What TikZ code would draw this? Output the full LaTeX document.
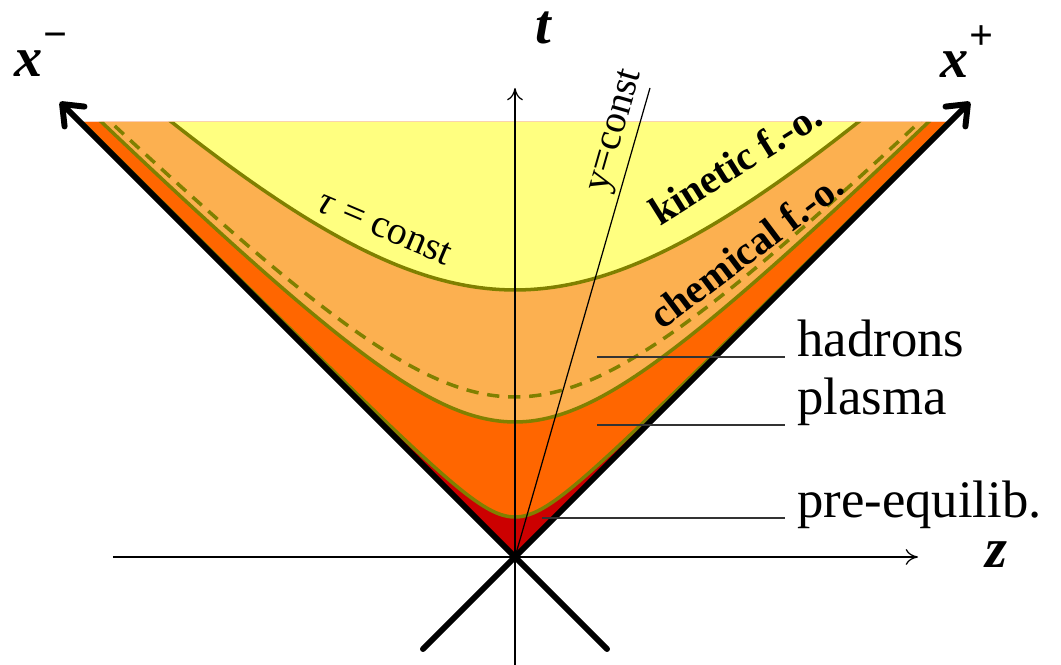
\documentclass[tikz,border=0pt]{standalone}
\usepackage{fontspec}
\setmainfont{Liberation Serif}
\usetikzlibrary{arrows.meta,calc}
\definecolor{cyel}{HTML}{FFFF80}
\definecolor{clor}{HTML}{FCB050}
\definecolor{cor}{HTML}{FF6600}
\definecolor{cred}{HTML}{CC0000}
\definecolor{colive}{HTML}{808000}
\begin{document}
\begin{tikzpicture}[x=0.02cm,y=0.02cm,
  cone/.style={line width=3.4pt,line cap=round},
  thinaxis/.style={line width=0.7pt,-{To[length=7pt,width=9pt]}},
  hyp/.style={colive,line width=2pt},
  leader/.style={black!80,line width=0.8pt},
  biglbl/.style={inner sep=0pt,font=\fontsize{32}{36}\selectfont\bfseries\itshape},
  midlbl/.style={inner sep=0pt,font=\fontsize{30}{34}\selectfont},
  smlbl/.style={inner sep=0pt,font=\fontsize{22.5}{26}\selectfont},
  fobl/.style={inner sep=0pt,font=\fontsize{23}{26}\selectfont\bfseries}]
\useasboundingbox (-515,-108) rectangle (546,557);
\coordinate (O) at (0,0);
\coordinate (UL) at (-455,455);
\coordinate (UR) at (455,455);
\coordinate (LL) at (-92,-92);
\coordinate (LR) at (92,-92);
\coordinate (TL) at (-435,435);
\coordinate (TR) at (435,435);
\coordinate (zL) at (-402,0);
\coordinate (zR) at (403,0);
\coordinate (tB) at (0,-108);
\coordinate (tT) at (0,469);
\coordinate (Y) at (135,469);
\begin{scope}
  \clip (O) -- (TL) -- (TR) -- cycle;
  \fill[cred] (O) -- (TL) -- (TR) -- cycle;
  \fill[cor] plot[domain=-3.2:3.2,samples=160] ({40*sinh(\x)},{40*cosh(\x)}) -- (600,700) -- (-600,700) -- cycle;
  \fill[clor] plot[domain=-1.95:1.95,samples=120] ({135*sinh(\x)},{135*cosh(\x)}) -- (600,700) -- (-600,700) -- cycle;
  \fill[cyel] plot[domain=-1.15:1.15,samples=100] ({267*sinh(\x)},{267*cosh(\x)}) -- (600,700) -- (-600,700) -- cycle;
  \draw[hyp] plot[domain=-3.2:3.2,samples=160] ({40*sinh(\x)},{40*cosh(\x)});
  \draw[hyp] plot[domain=-1.95:1.95,samples=120] ({135*sinh(\x)},{135*cosh(\x)});
  \draw[hyp,dash pattern=on 7pt off 5pt] plot[domain=-1.75:1.75,samples=120] ({160*sinh(\x)},{160*cosh(\x)});
  \draw[hyp] plot[domain=-1.15:1.15,samples=100] ({267*sinh(\x)},{267*cosh(\x)});
\end{scope}
% axes
\draw[thinaxis] (zL) -- (zR);
\draw[thinaxis] (tB) -- (tT);
\draw[line width=0.7pt] (O) -- (Y);
% light cone
\draw[cone,-{Straight Barb[length=10pt,width=16pt,round]}] (LL) -- (UR);
\draw[cone,-{Straight Barb[length=10pt,width=16pt,round]}] (LR) -- (UL);
% labels
\node[biglbl] (xm) at (-474,502) {x\raisebox{0.5em}{\fontsize{24}{26}\selectfont\upshape\bfseries −}};
\node[biglbl] (xp) at (452,505) {x\raisebox{0.5em}{\fontsize{24}{26}\selectfont\upshape\bfseries +}};
\node[biglbl] (tl) at (28,529) {t};
\node[biglbl] (zl) at (481,2) {z};
\node[smlbl,rotate=74] (yc) at (102,426) {y=const};
\node[smlbl,rotate=-23] (tau) at (-130,329) {\textit{τ} = const};
\node[fobl,rotate=32] (kin) at (220,394) {kinetic f.-o.};
\node[fobl,rotate=37] (chem) at (231,307) {chemical f.-o.};
\node[midlbl,anchor=base west] (had) at (282,200) {hadrons};
\node[midlbl,anchor=base west] (pla) at (282,142) {plasma};
\node[midlbl,anchor=base west] (pre) at (282,39) {pre-equilib.};
\coordinate (hL) at (82,200);
\coordinate (pL) at (82,132);
\coordinate (eL) at (27,39);
\draw[leader] (hL) -- ($(had.base west)+(-12,0)$);
\draw[leader] (pL) -- ($(pla.base west)+(-12,-10)$);
\draw[leader] (eL) -- ($(pre.base west)+(-12,0)$);
\end{tikzpicture}
\end{document}
